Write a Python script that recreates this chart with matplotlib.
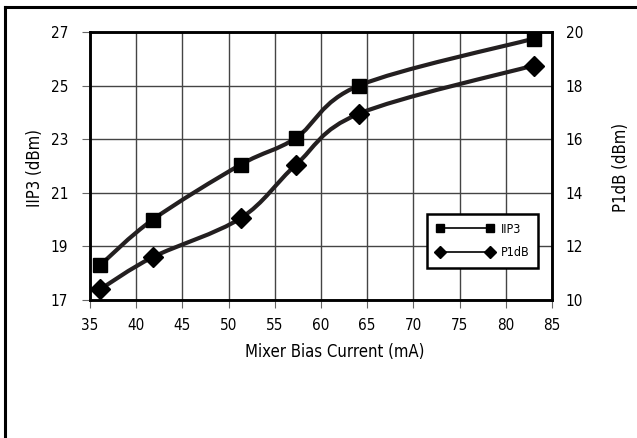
import numpy as np
import matplotlib
matplotlib.use("Agg")
import matplotlib.pyplot as plt
from matplotlib.path import Path
from matplotlib.patches import PathPatch
from matplotlib.lines import Line2D

plt.rcParams['font.family'] = ['DejaVu Sans']
plt.rcParams['font.stretch'] = 'condensed'

# data
bias_ma = [36.1, 41.8, 51.3, 57.3, 64.1, 83.0]
iip3_dbm = [18.3, 20.0, 22.05, 23.05, 25.0, 26.75]
p1db_dbm = [10.4, 11.6, 13.05, 15.05, 16.95, 18.75]

x_ticks = [35, 40, 45, 50, 55, 60, 65, 70, 75, 80, 85]
iip3_ticks = [17, 19, 21, 23, 25, 27]
p1db_ticks = [10, 12, 14, 16, 18, 20]

line_col = '#231f20'
W, H = 637, 438


def smooth_path(xs, ys):
    # catmull-rom style bezier through the points (drawing only)
    xs = np.asarray(xs, float)
    ys = np.asarray(ys, float)
    verts = [(xs[0], ys[0])]
    codes = [Path.MOVETO]
    n = len(xs)
    for i in range(n - 1):
        i0 = max(i - 1, 0)
        i3 = min(i + 2, n - 1)
        c1 = (xs[i] + (xs[i + 1] - xs[i0]) / 6.0, ys[i] + (ys[i + 1] - ys[i0]) / 6.0)
        c2 = (xs[i + 1] - (xs[i3] - xs[i]) / 6.0, ys[i + 1] - (ys[i3] - ys[i]) / 6.0)
        verts += [c1, c2, (xs[i + 1], ys[i + 1])]
        codes += [Path.CURVE4] * 3
    return Path(verts, codes)


fig = plt.figure(figsize=(W / 100, H / 100), dpi=100)
ax = fig.add_axes([90 / W, 1 - 300 / H, (552 - 90) / W, (300 - 32) / H])

ax.set_xlim(35, 85)
ax.set_ylim(17, 27)
ax.set_xticks(x_ticks)
ax.set_yticks(iip3_ticks)
ax.grid(True, color='#444444', linewidth=1.0)
ax.set_axisbelow(True)
for s in ax.spines.values():
    s.set_linewidth(1.8)
ax.tick_params(direction='out', length=5.8, width=0.8, color='#666666', labelsize=11)
ax.tick_params(axis='x', pad=7)
ax.tick_params(axis='y', pad=10)

ax2 = ax.twinx()
ax2.set_ylim(10, 20)
ax2.set_yticks(p1db_ticks)
ax2.tick_params(length=0, labelsize=11, pad=10)
for s in ax2.spines.values():
    s.set_linewidth(1.8)

fig.text(335 / W, 1 - 352 / H, 'Mixer Bias Current (mA)', fontsize=12,
         ha='center', va='center')
fig.text(35 / W, 1 - 168 / H, 'IIP3 (dBm)', fontsize=12, rotation=90,
         ha='center', va='center')
fig.text(621 / W, 1 - 167 / H, 'P1dB (dBm)', fontsize=12, rotation=90,
         ha='center', va='center')

# curves
ax.add_patch(PathPatch(smooth_path(bias_ma, iip3_dbm), facecolor='none',
                       edgecolor=line_col, linewidth=3.0, zorder=3))
ax.plot(bias_ma, iip3_dbm, linestyle='none', marker='s', markersize=10,
        color='black', zorder=4)
ax2.add_patch(PathPatch(smooth_path(bias_ma, p1db_dbm), facecolor='none',
                        edgecolor=line_col, linewidth=3.0, zorder=3))
ax2.plot(bias_ma, p1db_dbm, linestyle='none', marker='D', markersize=10,
         color='black', zorder=4)

handles = [Line2D([], [], color='black', lw=1.2, marker='s', markersize=6),
           Line2D([], [], color='black', lw=1.2, marker='D', markersize=6)]
leg = ax2.legend(handles, ['IIP3', 'P1dB'], loc='upper left',
                 bbox_to_anchor=((427 - 90) / 462, 1 - (214 - 32) / 268),
                 borderaxespad=0, fontsize=9, frameon=True, fancybox=False,
                 framealpha=1, edgecolor='black', handlelength=4.6, numpoints=2,
                 borderpad=0.7, labelspacing=0.85, handletextpad=0.6)
leg.get_frame().set_linewidth(1.8)

# outer border (top and left only)
fig.add_artist(Line2D([5 / W, 1], [1 - 7 / H, 1 - 7 / H], color='black', lw=2.2,
                      transform=fig.transFigure))
fig.add_artist(Line2D([5 / W, 5 / W], [0, 1 - 7 / H], color='black', lw=2.2,
                      transform=fig.transFigure))

fig.savefig('out.png', dpi=100)
